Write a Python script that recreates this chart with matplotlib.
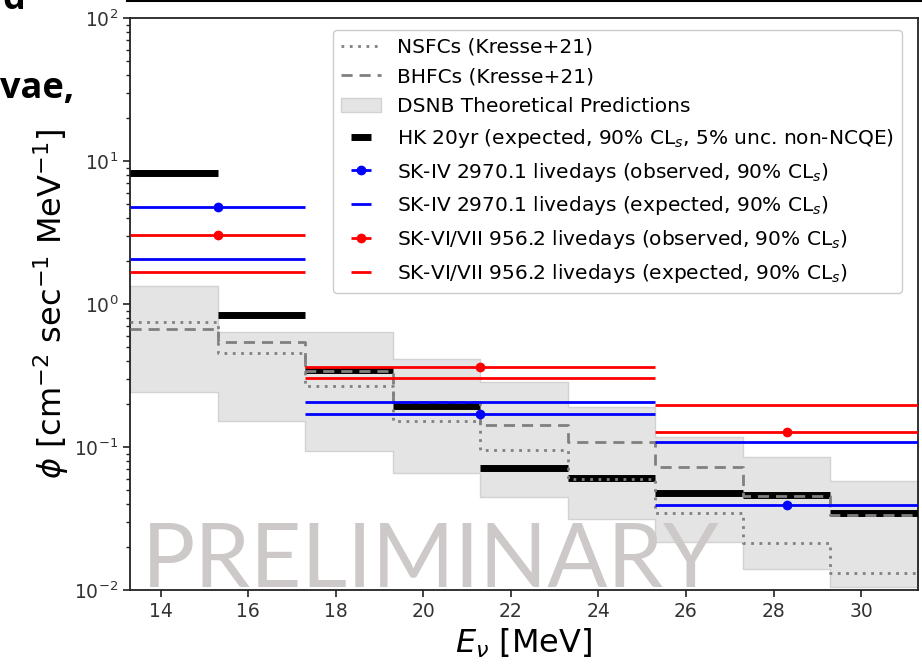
import matplotlib
matplotlib.use("Agg")
import matplotlib.pyplot as plt
import numpy as np

# ---------------- data ----------------
bin_edges = [13.3, 15.3, 17.3, 19.3, 21.3, 23.3, 25.3, 27.3, 29.3, 31.3]

nsfc = [0.748, 0.454, 0.267, 0.152, 0.0953, 0.0597, 0.0345, 0.0213, 0.0131]
bhfc = [0.668, 0.542, 0.340, 0.206, 0.143, 0.108, 0.0724, 0.0454, 0.0334]
band_upper = [1.34, 0.637, 0.637, 0.412, 0.285, 0.19, 0.117, 0.0851, 0.0578]
band_lower = [0.243, 0.152, 0.094, 0.0658, 0.0447, 0.0314, 0.0217, 0.014, 0.0105]
hk_20yr = [8.24, 0.838, 0.345, 0.194, 0.0713, 0.0607, 0.0477, 0.046, 0.0345]

sk_edges = [13.3, 17.3, 25.3, 31.3]
sk_marker_x = [15.3, 21.3, 28.3]
sk4_obs = [4.77, 0.170, 0.039]
sk4_exp = [2.06, 0.206, 0.108]
sk67_obs = [3.04, 0.362, 0.127]
sk67_exp = [1.67, 0.304, 0.197]

xticks = [14, 16, 18, 20, 22, 24, 26, 28, 30]

labels = [
    "NSFCs (Kresse+21)",
    "BHFCs (Kresse+21)",
    "DSNB Theoretical Predictions",
    r"HK 20yr (expected, 90% CL$_s$, 5% unc. non-NCQE)",
    r"SK-IV 2970.1 livedays (observed, 90% CL$_s$)",
    r"SK-IV 2970.1 livedays (expected, 90% CL$_s$)",
    r"SK-VI/VII 956.2 livedays (observed, 90% CL$_s$)",
    r"SK-VI/VII 956.2 livedays (expected, 90% CL$_s$)",
]

# ---------------- figure ----------------
fig = plt.figure(figsize=(9.22, 6.7), dpi=100)
ax = fig.add_axes([130 / 922, 1 - 590 / 670, (918 - 130) / 922, (590 - 18) / 670])

edges = np.array(bin_edges)
centers = 0.5 * (edges[:-1] + edges[1:])
half = 0.5 * np.diff(edges)

up = list(band_upper) + [band_upper[-1]]
lo = list(band_lower) + [band_lower[-1]]
band = ax.fill_between(edges, lo, up, step="post", facecolor="#e4e4e4",
                       edgecolor="#d2d2d2", linewidth=1.0, zorder=1)

hk = ax.errorbar(centers, hk_20yr, xerr=half, fmt="none", ecolor="black",
                 elinewidth=5, zorder=3)

ns, = ax.step(edges, list(nsfc) + [nsfc[-1]], where="post", color="#808080",
              linestyle=(0, (1, 2)), linewidth=2, zorder=4)
bh, = ax.step(edges, list(bhfc) + [bhfc[-1]], where="post", color="#808080",
              linestyle=(0, (4, 2.5)), linewidth=2, zorder=4)

ske = np.array(sk_edges)
sk_left = np.array(sk_marker_x) - ske[:-1]
sk_right = ske[1:] - np.array(sk_marker_x)
sk_xerr = [sk_left, sk_right]

sk4o = ax.errorbar(sk_marker_x, sk4_obs, xerr=sk_xerr, fmt="o", color="blue",
                   ecolor="blue", elinewidth=2, markersize=6, zorder=5)
sk4e = ax.errorbar(sk_marker_x, sk4_exp, xerr=sk_xerr, fmt="none",
                   ecolor="blue", elinewidth=2, zorder=5)
sk67o = ax.errorbar(sk_marker_x, sk67_obs, xerr=sk_xerr, fmt="o", color="red",
                    ecolor="red", elinewidth=2, markersize=6, zorder=5)
sk67e = ax.errorbar(sk_marker_x, sk67_exp, xerr=sk_xerr, fmt="none",
                    ecolor="red", elinewidth=2, zorder=5)

ax.set_yscale("log")
ax.set_ylim(1e-2, 1e2)
ax.set_xlim(bin_edges[0], bin_edges[-1])
ax.set_xticks(xticks)
ax.tick_params(axis="both", which="major", labelsize=13.5, length=5,
               width=1.2, colors="#222222", labelcolor="#333333")
ax.tick_params(axis="y", which="minor", length=3, width=1.0, colors="#222222")
for s in ax.spines.values():
    s.set_linewidth(1.3)
    s.set_color("#222222")

ax.set_xlabel(r"$E_{\nu}$ [MeV]", fontsize=23, labelpad=4)
ax.set_ylabel(r"$\phi$ [cm$^{-2}$ sec$^{-1}$ MeV$^{-1}$]", fontsize=23,
              labelpad=2)

leg = ax.legend([ns, bh, band, hk, sk4o, sk4e, sk67o, sk67e], labels,
                loc="upper right", fontsize=14.5, framealpha=1.0,
                labelspacing=0.53, bbox_to_anchor=(0.993, 0.997))
leg.get_frame().set_edgecolor("#cccccc")
leg.set_zorder(6)

ax.text(0.015, 0.006, "PRELIMINARY", transform=ax.transAxes,
        fontsize=64, family="Lato", color="#cdc9c9", ha="left",
        va="baseline", zorder=7)

# slide fragments around the chart
fig.text(0 / 922, 1 - 98 / 670, "vae,", fontsize=26, fontweight="bold",
         family="Open Sans", ha="left", va="baseline")
fig.text(25 / 922, 1 - 9 / 670, "d", fontsize=26, fontweight="bold",
         family="Open Sans", ha="right", va="baseline")
fig.add_artist(plt.Line2D([127 / 922, 1.0], [1 - 1 / 670, 1 - 1 / 670],
                          color="black", linewidth=1.5))

fig.savefig("out.png", dpi=100)
